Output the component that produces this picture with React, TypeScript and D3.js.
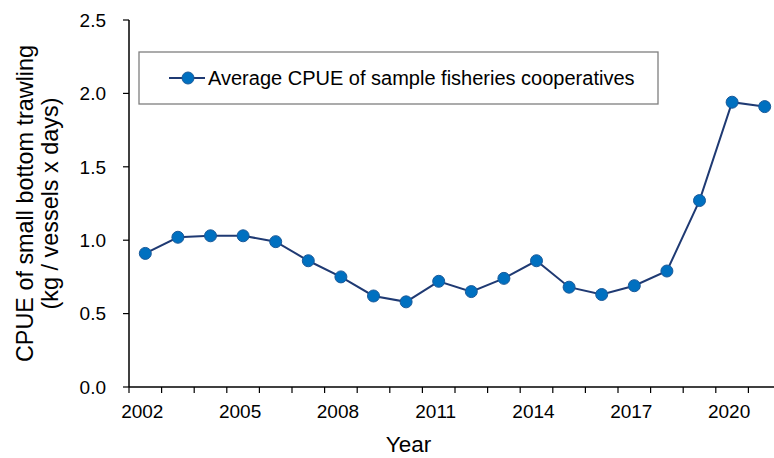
import React from "react";
import * as d3 from "d3";

const years: number[] = [2002, 2003, 2004, 2005, 2006, 2007, 2008, 2009, 2010, 2011, 2012, 2013, 2014, 2015, 2016, 2017, 2018, 2019, 2020, 2021];
const cpue: number[] = [0.91, 1.02, 1.03, 1.03, 0.99, 0.86, 0.75, 0.62, 0.58, 0.72, 0.65, 0.74, 0.86, 0.68, 0.63, 0.69, 0.79, 1.27, 1.94, 1.91];
const yTicks: number[] = [0, 0.5, 1.0, 1.5, 2.0, 2.5];
const xLabelYears: number[] = [2002, 2005, 2008, 2011, 2014, 2017, 2020];
const legendLabel = "Average CPUE of sample fisheries cooperatives";
const yTitle1 = "CPUE of small bottom trawling";
const yTitle2 = "(kg / vessels x days)";
const xTitle = "Year";

const W = 774;
const H = 458;
const FONT = "'Liberation Sans', Arial, Helvetica, sans-serif";

export default function App() {
  const left = 129;
  const right = 781;
  const top = 20;
  const bottom = 387;

  const x = d3.scaleBand<number>().domain(years).range([left, right]).paddingInner(0).paddingOuter(0);
  const y = d3.scaleLinear().domain([0, 2.5]).range([bottom, top]);
  const cx = (yr: number) => (x(yr) as number) + x.bandwidth() / 2;

  const line = d3
    .line<number>()
    .x((_, i) => cx(years[i]))
    .y((d) => y(d));

  const boundaries = years.map((yr) => x(yr) as number).concat([right]);

  const lineColor = "#1F3A73";
  const markerFill = "#0070C0";
  const markerStroke = "#1A5A9A";

  return (
    <div style={{ position: "absolute", left: 0, top: 0 }}>
      <svg width={W} height={H} viewBox={`0 0 ${W} ${H}`} style={{ display: "block", background: "#fff" }} fontFamily={FONT}>
        {/* Y axis */}
        <line x1={left} x2={left} y1={top} y2={bottom} stroke="#000" strokeWidth={1.5} />
        {yTicks.map((t) => (
          <g key={t}>
            <line x1={left - 6} x2={left} y1={y(t)} y2={y(t)} stroke="#000" strokeWidth={1.2} />
            <text x={106} y={y(t)} dy="0.36em" textAnchor="end" fontSize={19} fill="#000">
              {t.toFixed(1)}
            </text>
          </g>
        ))}
        {/* X axis */}
        <line x1={left} x2={right} y1={bottom} y2={bottom} stroke="#000" strokeWidth={1.5} />
        {boundaries.map((b, i) => (
          <line key={i} x1={b} x2={b} y1={bottom} y2={bottom + 6} stroke="#000" strokeWidth={1.2} />
        ))}
        {xLabelYears.map((yr) => (
          <text key={yr} x={cx(yr)} dx={-3} y={418} textAnchor="middle" fontSize={19} fill="#000">
            {yr}
          </text>
        ))}
        {/* Axis titles */}
        <text x={408.5} y={452} textAnchor="middle" fontSize={22.5} fill="#000">
          {xTitle}
        </text>
        <text transform={`translate(33, ${(top + bottom) / 2}) rotate(-90)`} textAnchor="middle" fontSize={23.4} fill="#000">
          {yTitle1}
        </text>
        <text transform={`translate(58, ${(top + bottom) / 2}) rotate(-90)`} textAnchor="middle" fontSize={23.4} fill="#000">
          {yTitle2}
        </text>
        {/* Legend */}
        <rect x={139} y={52} width={519} height={52} fill="#fff" stroke="#7f7f7f" strokeWidth={1.3} />
        <line x1={169} x2={205} y1={78} y2={78} stroke={lineColor} strokeWidth={2} />
        <circle cx={188} cy={78} r={6} fill={markerFill} stroke={markerStroke} strokeWidth={1} />
        <text x={208} y={78} dy="0.36em" fontSize={20} fill="#000">
          {legendLabel}
        </text>
        {/* Series */}
        <path d={line(cpue) || ""} fill="none" stroke={lineColor} strokeWidth={2} />
        {cpue.map((v, i) => (
          <circle key={i} cx={cx(years[i])} cy={y(v)} r={6} fill={markerFill} stroke={markerStroke} strokeWidth={1} />
        ))}
      </svg>
    </div>
  );
}
